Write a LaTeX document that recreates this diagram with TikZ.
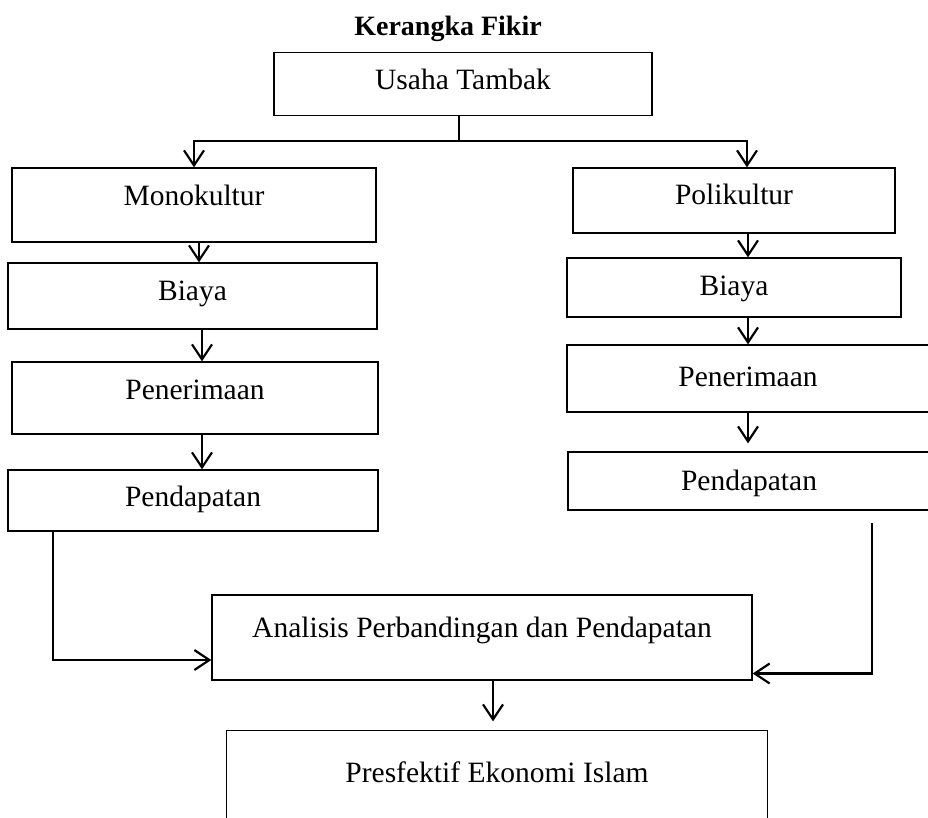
\documentclass[tikz,border=0pt]{standalone}
\usepackage{fontspec}
\setmainfont{Liberation Serif}
\usetikzlibrary{positioning, arrows.meta}

\begin{document}
\begin{tikzpicture}[
    % GLOBAL CFG
    x=1pt, y=-1pt,
    font=\fontsize{29.5}{35}\selectfont,
    >={Straight Barb[length=15pt,width=20pt]},
    % Styles
    box/.style={% For the boxes, the value lifts the text
        rectangle,
        draw,
        line width=1.3pt,
        inner sep=0pt,
        text height=21pt,
        text depth=#1,
        },
    box/.default=6pt,
    link/.style={% Connectors
        line width=2.2pt,
        },
    ]

%Start drawing the thing...
    \useasboundingbox (0,0) rectangle (928,817);

    % Title
    \node[anchor=base, font=\fontsize{28}{33}\selectfont\bfseries] (title) at (448,35) {Kerangka Fikir};

    % Top box
    \node [box=9.5pt, minimum width=378pt, minimum height=63pt] (usaha) at (463,84) {Usaha Tambak};

    % Left column, named as basis L
    \node [box=19.5pt, minimum width=364pt, minimum height=74pt] (monoL) at (194,205) {Monokultur};
    \node [box=11.5pt, minimum width=369pt, minimum height=66pt] (biayaL) at (192.5,296) {Biaya};
    \node [box=17.5pt, minimum width=366pt, minimum height=72pt] (terimaL) at (195,398) {Penerimaan};
    \node [box=8.5pt, minimum width=370pt, minimum height=61pt] (dapatL) at (193,500.5) {Pendapatan};

    % Right column, named as basis R
    \node [box=12.5pt, minimum width=322pt, minimum height=65pt] (poliR) at (734,200.5) {Polikultur};
    \node [box=4.5pt, minimum width=334pt, minimum height=59pt] (biayaR) at (734,287.5) {Biaya};
    \node [box=5.5pt, minimum width=362pt, minimum height=67pt] (terimaR) at (748,378.5) {Penerimaan};
    \node [box=1.5pt, minimum width=362pt, minimum height=58pt] (dapatR) at (749,481) {Pendapatan};

    % Bottom boxes
    \node [box=21.5pt, minimum width=540pt, minimum height=85pt] (analisis) at (482,637.5) {Analisis Perbandingan dan Pendapatan};
    \node [box=3.5pt, draw=none, minimum width=540pt, minimum height=86pt] (pres) at (497,774) {Presfektif Ekonomi Islam};
    \draw [line width=1.3pt] (pres.south west) -- (pres.north west) -- (pres.north east) -- (pres.south east);

% Start connecting all.
    % Split
    \draw [link] ([xshift=-4pt]usaha.south) -- ([xshift=-4pt]usaha.south |- 0,141) coordinate (fork);
    \draw [->, link] (fork) -| (monoL.north);
    \draw [->, link] (fork) -| ([xshift=13pt]poliR.north);

    % Left chain
    \draw [->, link] ([xshift=5pt]monoL.south) -- ([xshift=5pt]monoL.south |- biayaL.north);
    \draw [->, link] ([xshift=9.5pt]biayaL.south) -- ([xshift=9.5pt]biayaL.south |- terimaL.north);
    \draw [->, link] ([xshift=7pt]terimaL.south) -- ([xshift=7pt]terimaL.south |- dapatL.north);

    % Right chain
    \draw [->, link] ([xshift=14pt]poliR.south) -- ([xshift=14pt]poliR.south |- biayaR.north);
    \draw [->, link] ([xshift=14pt]biayaR.south) -- ([xshift=14pt]biayaR.south |- terimaR.north);
    \draw [->, link, shorten >=8pt] (terimaR.south) -- (terimaR.south |- dapatR.north);

    %Outputs
    \draw [->, link] ([xshift=-140pt]dapatL.south) |- ([yshift=-22.5pt]analisis.west);
    \draw [->, link] ([xshift=123pt,yshift=-12pt]dapatR.south) |- ([yshift=-36pt]analisis.east);
    \draw [->, link, shorten >=9pt] ([xshift=11pt]analisis.south) -- ([xshift=11pt]analisis.south |- pres.north);

\end{tikzpicture}
\end{document}
